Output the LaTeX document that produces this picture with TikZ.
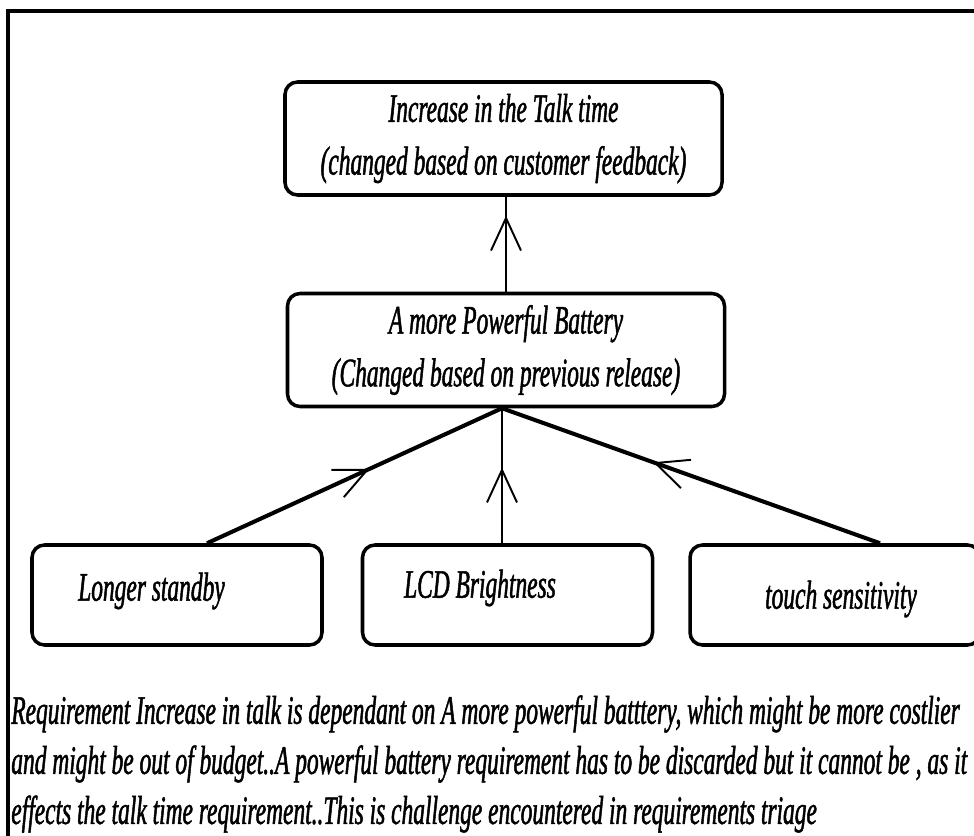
\documentclass[tikz,border=0pt]{standalone}
\usepackage{fontspec}
\usepackage{tikz}
\usetikzlibrary{arrows.meta}
\usetikzlibrary{decorations.markings}
\newfontfamily\triagefont{Liberation Serif}[FakeStretch=0.58,FakeBold=1.2]

\begin{document}
\begin{tikzpicture}[-,auto,node distance=4.23cm,
	req box/.style={draw, rounded corners=0.25cm, line width=2pt, minimum width=8.74cm, minimum height=2.26cm, align=center, inner sep=0pt},
	small box/.style={req box, minimum width=5.8cm, minimum height=2cm},
	req text/.style={inner sep=0pt},
	link/.style={line width=2.3pt},
	thin link/.style={line width=1.4pt},
	barb at/.style={postaction={decorate}, decoration={markings, mark=at position #1 with {\arrow{Straight Barb[length=6.5mm,width=6mm,line width=1.1pt]}}}},
	every node/.style={font=\triagefont\itshape\fontsize{23}{30}\selectfont}]
			\useasboundingbox (0,0) rectangle (19.48,-16.72);
			\clip (0,0) rectangle (19.48,-16.72);
			% frame
			\draw[line width=2.6pt] (0.16,-16.8) -- (0.16,-0.22) -- (19.6,-0.22);
			
			% Nodes
			\node [req box] (talk) at (10.07,-2.77) {Increase in the Talk time\\ (changed based on customer feedback)};
			\node [req box] (battery) [below of=talk, xshift=0.05cm] {A more Powerful Battery\\ (Changed based on previous release)};
			\node [small box] (standby) [node distance=4.9cm, below of=battery, xshift=-6.58cm] {};
			\node [small box] (lcd) [node distance=4.9cm, below of=battery, xshift=0.03cm] {};
			\node [small box] (touch) [node distance=4.9cm, below of=battery, xshift=6.58cm] {};
			
			\node [req text] (standbytxt) at ([xshift=-0.51cm, yshift=0.08cm]standby.center) {Longer standby};
			\node [req text] (lcdtxt) at ([xshift=-0.55cm, yshift=0.14cm]lcd.center) {LCD Brightness};
			\node [req text] (touchtxt) at ([xshift=0.12cm, yshift=-0.08cm]touch.center) {touch sensitivity};
			
			\path
			([xshift=0.6cm]standby.north)
			edge [link, barb at=0.55] ([xshift=-0.08cm]battery.south)
			
			([xshift=-0.11cm]lcd.north)
			edge [thin link, barb at=0.56] ([xshift=-0.08cm]battery.south)
			
			([xshift=0.9cm]touch.north)
			edge [link, barb at=0.6] ([xshift=-0.08cm]battery.south)
			
			(battery.north)
			edge [thin link, barb at=0.8] (battery.north |- talk.south);
			
			\node [req text, anchor=north west, align=left, font=\triagefont\itshape\fontsize{23}{28.5}\selectfont] (note) at (0.22,-13.9) {Requirement Increase in talk is dependant on A more powerful batttery, which might be more costlier\\ and might be out of budget..A powerful battery requirement has to be discarded but it cannot be , as it\\ effects the talk time requirement..This is challenge encountered in requirements triage};
			
		\end{tikzpicture}
\end{document}
